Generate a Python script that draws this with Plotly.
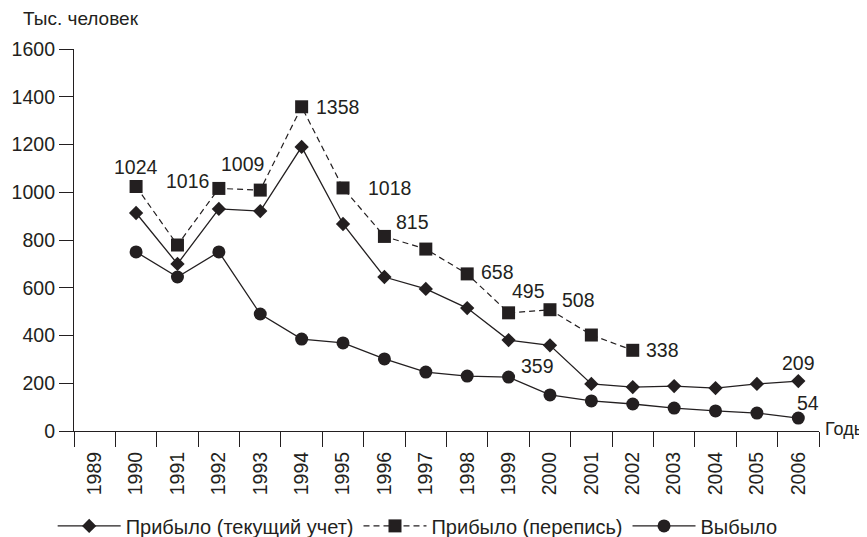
import plotly.graph_objects as go

years = [str(y) for y in range(1989, 2007)]

# Прибыло (текущий учет), 1990-2006
arrived_current_years = [str(y) for y in range(1990, 2007)]
arrived_current = [913, 700, 930, 921, 1190, 867, 645, 595, 515, 381, 359, 197, 184, 188, 180, 197, 209]

# Прибыло (перепись), 1990-2002
arrived_census_years = [str(y) for y in range(1990, 2003)]
arrived_census = [1024, 779, 1016, 1009, 1358, 1018, 815, 762, 658, 495, 508, 402, 338]

# Выбыло, 1990-2006
departed_years = [str(y) for y in range(1990, 2007)]
departed = [750, 645, 750, 490, 385, 369, 302, 247, 230, 226, 151, 126, 113, 96, 84, 75, 54]

y_ticks = [0, 200, 400, 600, 800, 1000, 1200, 1400, 1600]

INK = "#231f20"
FONT = "Liberation Sans, Arial"

fig = go.Figure()
fig.add_trace(go.Scatter(
    x=arrived_current_years, y=arrived_current, mode="lines+markers",
    name="Прибыло (текущий учет)",
    line=dict(color=INK, width=1.3),
    marker=dict(symbol="diamond", size=11, color=INK),
    cliponaxis=False))
fig.add_trace(go.Scatter(
    x=arrived_census_years, y=arrived_census, mode="lines+markers",
    name="Прибыло (перепись)",
    line=dict(color=INK, width=1.2, dash="6px,4px"),
    marker=dict(symbol="square", size=13, color=INK),
    cliponaxis=False))
fig.add_trace(go.Scatter(
    x=departed_years, y=departed, mode="lines+markers",
    name="Выбыло",
    line=dict(color=INK, width=1.3),
    marker=dict(symbol="circle", size=13, color=INK),
    cliponaxis=False))

# data labels: (series years, series values, year, xshift, yshift)
label_specs = [
    (arrived_census_years, arrived_census, "1990", 0, 20),
    (arrived_census_years, arrived_census, "1992", -31, 7),
    (arrived_census_years, arrived_census, "1993", -18, 26),
    (arrived_census_years, arrived_census, "1994", 36, 0),
    (arrived_census_years, arrived_census, "1995", 46, 0),
    (arrived_census_years, arrived_census, "1996", 28, 14),
    (arrived_census_years, arrived_census, "1998", 30, 2),
    (arrived_census_years, arrived_census, "1999", 20, 22),
    (arrived_census_years, arrived_census, "2000", 29, 10),
    (arrived_census_years, arrived_census, "2002", 30, 0),
    (arrived_current_years, arrived_current, "2000", -12, -21),
    (arrived_current_years, arrived_current, "2006", 0, 18),
    (departed_years, departed, "2006", 10, 15),
]
for xs, vals, yr, dx, dy in label_specs:
    v = vals[xs.index(yr)]
    fig.add_annotation(x=years.index(yr), y=v, text=str(v), showarrow=False,
                       xshift=dx, yshift=dy,
                       font=dict(family=FONT, size=19.5, color=INK))

fig.add_annotation(xref="paper", yref="paper", x=0, y=1, xanchor="left", yanchor="middle",
                   xshift=-53, yshift=31, text="Тыс. человек", showarrow=False,
                   font=dict(family=FONT, size=19, color=INK))
fig.add_annotation(xref="paper", yref="paper", x=1, y=0, xanchor="left", yanchor="middle",
                   xshift=4, yshift=2, text="Годы", showarrow=False,
                   font=dict(family=FONT, size=18, color=INK))

# the page body has an 8px margin, so the figure is 8px smaller and offsets shrink by 8px
fig.update_layout(
    width=859, height=529,
    margin=dict(l=66, r=48, t=41, b=106, autoexpand=False),
    paper_bgcolor="white", plot_bgcolor="white",
    font=dict(family=FONT, color=INK),
    showlegend=True,
    legend=dict(orientation="h", x=0.052, xref="container", xanchor="left",
                y=0.021, yref="container", yanchor="middle",
                font=dict(family=FONT, size=20, color=INK), itemwidth=63,
                bgcolor="rgba(0,0,0,0)"),
    xaxis=dict(type="category", categoryorder="array", categoryarray=years,
               tickmode="array", tickvals=years, ticktext=years,
               range=[-0.5, len(years) - 0.5], automargin=False,
               tickson="boundaries", ticks="outside", ticklen=15, tickwidth=1.2,
               tickcolor=INK, tickangle=-90, ticklabelstandoff=12,
               showline=True, linecolor=INK, linewidth=1.2,
               showgrid=False, zeroline=False,
               tickfont=dict(family=FONT, size=19.5, color=INK)),
    yaxis=dict(range=[0, 1600], tickvals=y_ticks, ticks="outside", ticklen=14,
               tickwidth=1.2, tickcolor=INK, automargin=False,
               showline=True, linecolor=INK, linewidth=1.2,
               showgrid=False, zeroline=False,
               tickfont=dict(family=FONT, size=19.5, color=INK)),
)

fig.write_html("out.html")
